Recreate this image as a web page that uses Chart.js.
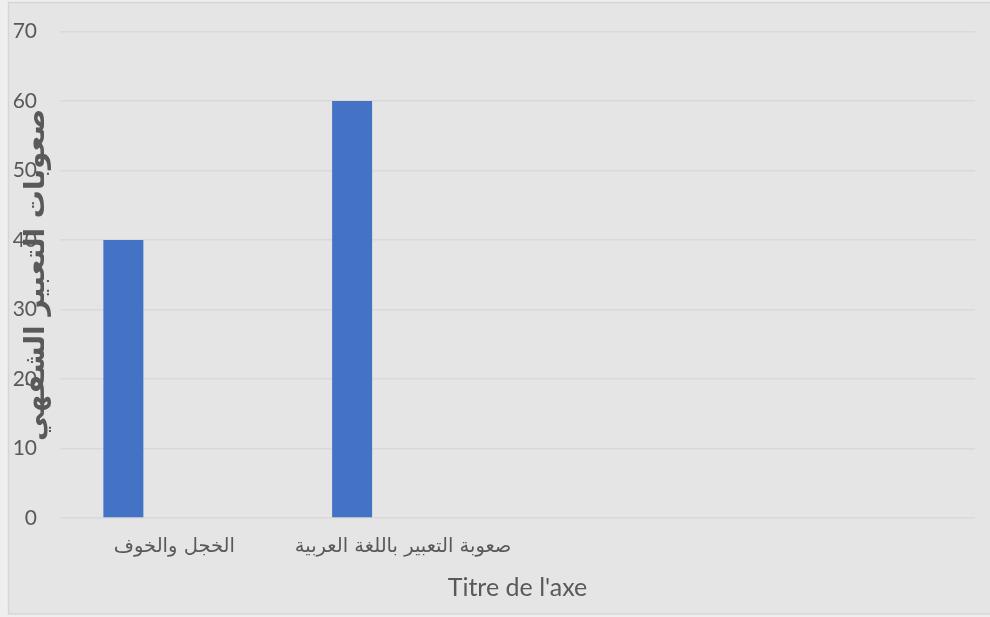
<!DOCTYPE html>
<html>
<head>
<meta charset="utf-8">
<script src="https://cdn.jsdelivr.net/npm/chart.js@4"></script>
<style>
  html, body { margin: 0; padding: 0; background: #efefef; }
  #wrap { width: 990px; height: 617px; }
</style>
</head>
<body>
<div id="wrap"><canvas id="chartCanvas" width="990" height="617"></canvas></div>
<script>
const categories = ["الخجل والخوف", "صعوبة التعبير باللغة العربية", "", ""];
const series1 = [40, 60, null, null];
const series2 = [null, null, null, null];
const series3 = [null, null, null, null];
const yTitle = "صعوبات التعبير الشفهي";
const xTitle = "Titre de l'axe";

const textColor = "#595959";

// grey chart box behind everything
const boxBg = {
  id: "boxBg",
  beforeDraw(c) {
    const ctx = c.ctx;
    ctx.save();
    ctx.fillStyle = "#efefef";
    ctx.fillRect(0, 0, c.width, c.height);
    ctx.fillStyle = "#e5e5e5";
    ctx.fillRect(8, 2, 990, 612);
    ctx.strokeStyle = "#d6d6d6";
    ctx.lineWidth = 1.5;
    ctx.strokeRect(8.5, 2.5, 990, 611.5);
    ctx.restore();
  }
};

const ctx = document.getElementById("chartCanvas").getContext("2d");
const chart = new Chart(ctx, {
  type: "bar",
  data: {
    labels: categories,
    datasets: [
      { label: "Série 1", data: series1, backgroundColor: "#4472c4" },
      { label: "Série 2", data: series2, backgroundColor: "#ed7d31" },
      { label: "Série 3", data: series3, backgroundColor: "#a5a5a5" }
    ]
  },
  options: {
    responsive: false,
    animation: false,
    layout: { padding: { top: 31.5, right: 15, bottom: 0, left: 0 } },
    datasets: { bar: { categoryPercentage: 0.669, barPercentage: 0.784 } },
    plugins: { legend: { display: false }, tooltip: { enabled: false } },
    scales: {
      x: {
        grid: { display: false, drawTicks: false },
        border: { display: false },
        ticks: { color: textColor, font: { family: "DejaVu Sans", size: 19.5 }, padding: 17, maxRotation: 0, autoSkip: false },
        title: { display: true, text: xTitle, color: textColor, font: { family: "Lato", size: 25 }, padding: { top: 0, bottom: 14 } },
        afterFit(s) { s.height = 99; s.paddingLeft = 0; s.paddingRight = 0; }
      },
      y: {
        min: 0, max: 70,
        grid: { color: "#d9d9d9", lineWidth: 1.5, drawTicks: false },
        border: { display: false },
        ticks: { stepSize: 10, color: textColor, font: { family: "Lato", size: 21 }, padding: 23 },
        title: { display: true, text: yTitle, color: textColor, font: { family: "DejaVu Sans", size: 28, weight: "bold" }, padding: { top: 20, bottom: 0 } },
        afterFit(s) { s.width = 60; s.paddingTop = 0; s.paddingBottom = 0; }
      }
    }
  },
  plugins: [boxBg]
});
</script>
</body>
</html>
